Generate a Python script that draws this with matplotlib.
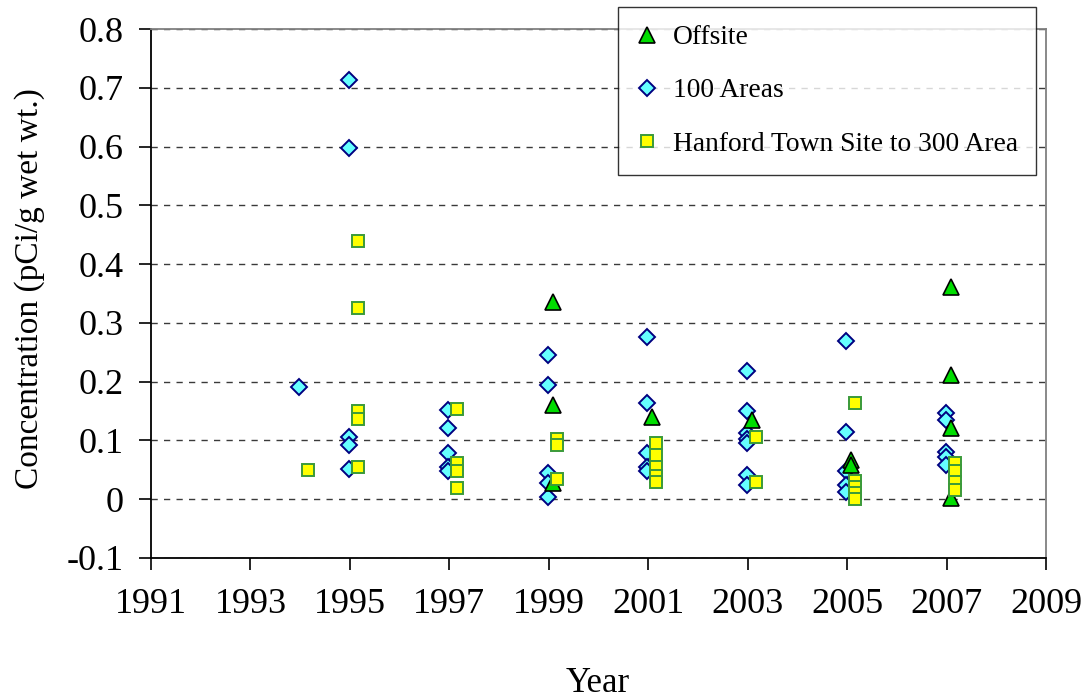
import matplotlib
matplotlib.use("Agg")
import matplotlib.pyplot as plt
import numpy as np

plt.rcParams['font.family'] = ['Liberation Serif', 'DejaVu Serif']

# ---- data (year, concentration pCi/g wet wt.) ----
offsite_years = [1999, 1999, 1999, 2001, 2003, 2005, 2005, 2007, 2007, 2007, 2007]
offsite_vals = [0.336, 0.160, 0.028, 0.140, 0.135, 0.066, 0.059, 0.361, 0.211, 0.122, 0.002]

areas100_years = [1994,
                  1995, 1995, 1995, 1995, 1995,
                  1997, 1997, 1997, 1997, 1997,
                  1999, 1999, 1999, 1999, 1999,
                  2001, 2001, 2001, 2001, 2001,
                  2003, 2003, 2003, 2003, 2003, 2003, 2003,
                  2005, 2005, 2005, 2005, 2005,
                  2007, 2007, 2007, 2007, 2007]
areas100_vals = [0.191,
                 0.714, 0.597, 0.106, 0.093, 0.051,
                 0.152, 0.122, 0.078, 0.054, 0.048,
                 0.245, 0.194, 0.045, 0.027, 0.003,
                 0.276, 0.164, 0.079, 0.055, 0.048,
                 0.218, 0.150, 0.112, 0.103, 0.095, 0.041, 0.024,
                 0.270, 0.115, 0.048, 0.025, 0.012,
                 0.147, 0.134, 0.080, 0.072, 0.058]

hanford_years = [1994,
                 1995, 1995, 1995, 1995, 1995,
                 1997, 1997, 1997, 1997,
                 1999, 1999, 1999,
                 2001, 2001, 2001, 2001, 2001,
                 2003, 2003,
                 2005, 2005, 2005, 2005, 2005,
                 2007, 2007, 2007, 2007]
hanford_vals = [0.049,
                0.440, 0.325, 0.150, 0.137, 0.055,
                0.154, 0.062, 0.048, 0.019,
                0.103, 0.092, 0.035,
                0.095, 0.075, 0.055, 0.040, 0.030,
                0.106, 0.030,
                0.163, 0.031, 0.021, 0.011, 0.000,
                0.062, 0.048, 0.029, 0.015]

series_labels = ["Offsite", "100 Areas", "Hanford Town Site to 300 Area"]
x_ticks = list(range(1991, 2010, 2))
y_ticks = [-0.1, 0.0, 0.1, 0.2, 0.3, 0.4, 0.5, 0.6, 0.7, 0.8]
y_tick_labels = ["-0.1", "0", "0.1", "0.2", "0.3", "0.4", "0.5", "0.6", "0.7", "0.8"]

# ---- figure ----
fig = plt.figure(figsize=(10.89, 7.0), dpi=100)
ax = fig.add_axes([151/1089, 1-558/700, (1046-151)/1089, (558-29)/700])

ax.plot(np.array(areas100_years) - 0.02, areas100_vals, linestyle='none', marker='D',
        markersize=8.2, markerfacecolor='#66ffff', markeredgecolor='#000080',
        markeredgewidth=1.4, label=series_labels[1], zorder=3)
ax.plot(np.array(offsite_years) + 0.08, offsite_vals, linestyle='none', marker='^',
        markersize=11, markerfacecolor='#00dd00', markeredgecolor='black',
        markeredgewidth=1.2, label=series_labels[0], zorder=4)
ax.plot(np.array(hanford_years) + 0.16, hanford_vals, linestyle='none', marker='s',
        markersize=8.6, markerfacecolor='#ffff00', markeredgecolor='#3a9a3a',
        markeredgewidth=1.4, label=series_labels[2], zorder=5)

ax.set_xlim(1991, 2009)
ax.set_ylim(-0.1, 0.8)
ax.set_xticks(x_ticks)
ax.set_xticklabels([str(t) for t in x_ticks])
ax.set_yticks(y_ticks)
ax.set_yticklabels(y_tick_labels)
ax.tick_params(axis='both', direction='out', length=8.5, width=1.2, labelsize=26,
               color='black')
ax.tick_params(axis='x', pad=13)
ax.tick_params(axis='y', pad=11)

ax.yaxis.grid(True, linestyle=(0, (4.5, 4.5)), color='#3a3a3a', linewidth=1.0)
ax.set_axisbelow(True)

ax.spines['left'].set_color('black')
ax.spines['left'].set_linewidth(1.3)
ax.spines['bottom'].set_color('black')
ax.spines['bottom'].set_linewidth(1.3)
ax.spines['top'].set_color('#808080')
ax.spines['top'].set_linewidth(1.3)
ax.spines['right'].set_color('#808080')
ax.spines['right'].set_linewidth(1.3)
for sp in ax.spines.values():
    sp.set_zorder(6)

fig.text(598/1089, 1-683/700, "Year", ha='center', va='center', fontsize=25)
fig.text(30/1089, 1-289/700, "Concentration (pCi/g wet wt.)", ha='center', va='center',
         rotation=90, fontsize=24)

handles, labels = ax.get_legend_handles_labels()
order = [labels.index(l) for l in series_labels]
leg = fig.legend([handles[i] for i in order], [labels[i] for i in order],
                 loc='upper left', bbox_to_anchor=(618/1089, 1-7/700),
                 fontsize=19.8, frameon=True, fancybox=False, shadow=False,
                 labelspacing=1.02, handlelength=0.8, handletextpad=0.55,
                 borderpad=0.65, borderaxespad=0.0)
leg.get_frame().set_edgecolor('black')
leg.get_frame().set_linewidth(1.0)
leg.set_zorder(10)

fig.savefig("out.png", dpi=100)
